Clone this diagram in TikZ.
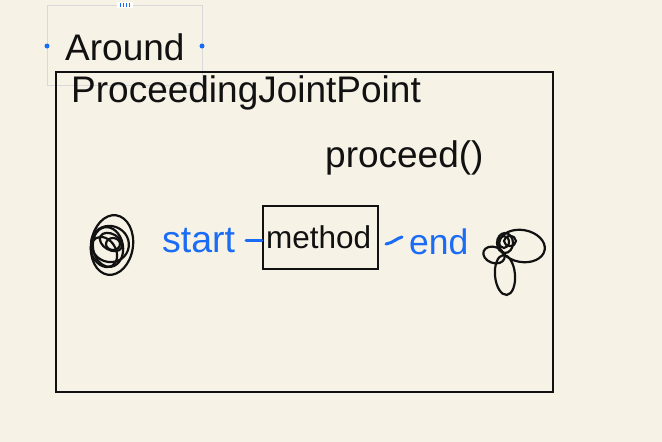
\documentclass[tikz,border=0pt]{standalone}
\usepackage{fontspec}
\setmainfont{Liberation Sans}
\definecolor{bg}{HTML}{F7F2E6}
\definecolor{pen}{HTML}{1A6CF5}
\definecolor{ink}{HTML}{111111}
\tikzset{
  lbl/.style={anchor=base west, inner sep=0pt, font=\fontsize{37}{40}\selectfont, text=ink},
  bluelbl/.style={lbl, text=pen},
  scrib/.style={draw=ink, line width=2.2pt},
  pendash/.style={draw=pen, line width=3pt, line cap=round},
  handle/.style={circle, fill=pen, inner sep=0pt, minimum size=5pt}
}
\begin{document}
\begin{tikzpicture}[x=1pt,y=-1pt]
\fill[bg] (0,0) rectangle (662,442);
\useasboundingbox (0,0) rectangle (662,442);
% selection frame
\draw[black!15, line width=0.6pt] (47,5) rectangle (202,85);
\node[handle] (hl) at (47,46) {};
\node[handle] (hr) at (202,46) {};
\fill[white] (117,2) rectangle (133,8);
\foreach \i in {120,123,126,129} \draw[pen, line width=0.9pt] (\i+0.5,3) -- (\i+0.5,7);
\node[lbl] (around) at (65,60) {Around};
% main frame
\draw[ink, line width=2.2pt] (56,72) rectangle (553,392);
\node[lbl] (pjp) at (71,102) {ProceedingJointPoint};
\node[lbl] (proceed) at (325,167) {proceed()};
% method box
\node[draw=ink, line width=2.2pt, minimum width=115pt, minimum height=63pt, inner sep=0pt] (method) at (320.5,237.5) {};
\node[anchor=base west, inner sep=0pt, font=\fontsize{31.5}{34}\selectfont, text=ink] (mtext) at (266,248) {method};
\node[bluelbl, font=\fontsize{37.5}{40}\selectfont] (start) at (162,252) {start};
\node[bluelbl, font=\fontsize{35.5}{38}\selectfont] (end) at (409,254) {end};
\coordinate (s1) at (246,240);
\coordinate (e1) at (386,244);
\draw[pendash] (s1) -- (method.west |- s1);
\draw[pendash] (e1) .. controls (393,243) and (397,238) .. (402,237);
% left scribble
\draw[scrib, rotate around={-8:(112,245)}] (112,245) ellipse (21 and 30);
\draw[scrib, rotate around={-20:(110,244)}] (110,244) ellipse (19 and 18);
\draw[scrib, rotate around={10:(108,247)}] (108,247) ellipse (15 and 20);
\draw[scrib, rotate around={-30:(111,242)}] (111,242) ellipse (12 and 8);
\draw[scrib] (113,244) ellipse (7 and 6);
\draw[scrib, rotate around={30:(104,252)}] (104,252) ellipse (12 and 16);
% right scribble
\draw[scrib, rotate around={-10:(522,246)}] (522,246) ellipse (23 and 16);
\draw[scrib] (505,243) ellipse (8 and 10);
\draw[scrib] (504,242) ellipse (5 and 6);
\draw[scrib, rotate around={-20:(494,255)}] (494,255) ellipse (11 and 8);
\draw[scrib, rotate around={5:(505,275)}] (505,275) ellipse (10 and 20);
\draw[scrib] (510,241) ellipse (6 and 5);
\end{tikzpicture}
\end{document}
